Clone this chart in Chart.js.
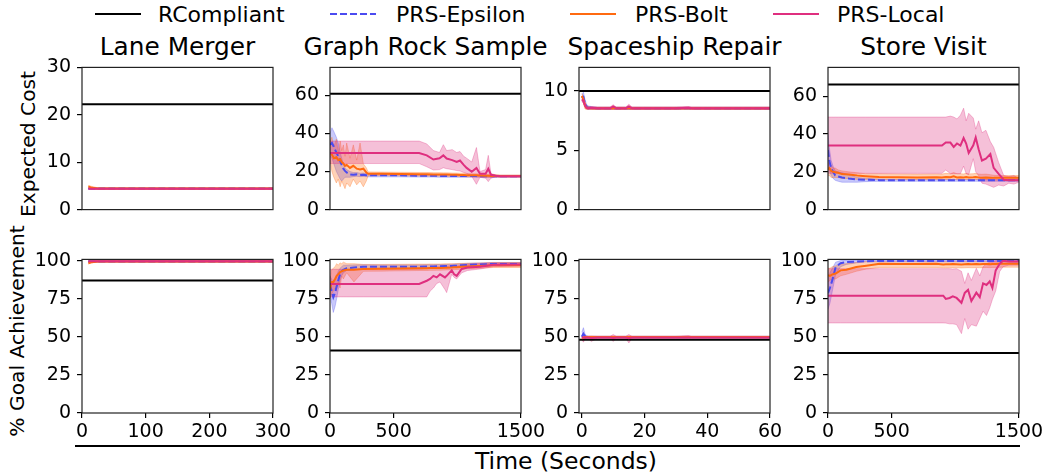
<!DOCTYPE html>
<html>
<head>
<meta charset="utf-8">
<script src="https://cdn.jsdelivr.net/npm/chart.js@4.4.1/dist/chart.umd.min.js"></script>
<style>
body { margin: 0; background: #fff; width: 1047px; height: 472px; position: relative; overflow: hidden; font-family: "DejaVu Sans", sans-serif; color: #000; }
canvas { position: absolute; }
.txt { position: absolute; white-space: nowrap; }
.title { font-size: 24.8px; line-height: 28px; text-align: center; width: 320px; top: 33px; }
.leg { font-size: 22px; line-height: 26px; top: 2px; }
.ylab { font-size: 20.3px; line-height: 26px; width: 320px; height: 26px; text-align: center; transform: rotate(-90deg); }
svg { position: absolute; }
</style>
</head>
<body>

<svg style="left:95px;top:8px" width="46" height="12"><line x1="0" y1="6" x2="46" y2="6" stroke="#000" stroke-width="2.2"/></svg>
<div class="txt leg" style="left:158px">RCompliant</div>
<svg style="left:330px;top:8px" width="46" height="12"><line x1="0" y1="6" x2="46" y2="6" stroke="#4b4bf0" stroke-width="2.2" stroke-dasharray="7,3"/></svg>
<div class="txt leg" style="left:396px">PRS-Epsilon</div>
<svg style="left:570px;top:8px" width="46" height="12"><line x1="0" y1="6" x2="46" y2="6" stroke="#ff6a10" stroke-width="2.2"/></svg>
<div class="txt leg" style="left:635px">PRS-Bolt</div>
<svg style="left:773px;top:8px" width="46" height="12"><line x1="0" y1="6" x2="46" y2="6" stroke="#df2f7f" stroke-width="2.2"/></svg>
<div class="txt leg" style="left:837px">PRS-Local</div>

<div class="txt ylab" style="left:-132px;top:131px">Expected Cost</div>
<div class="txt ylab" style="left:-143px;top:318px">% Goal Achievement</div>

<div style="position:absolute;left:75px;top:445px;width:945px;height:2px;background:#000"></div>
<div class="txt" style="left:406px;top:446px;width:320px;text-align:center;font-size:23.5px;line-height:30px">Time (Seconds)</div>

<script>
// ---------- data ----------
const panelTitles = ['Lane Merger', 'Graph Rock Sample', 'Spaceship Repair', 'Store Visit'];

// RCompliant baselines (cost row, goal row)
const rcCost = [22.2, 60.8, 10.0, 66.3];
const rcGoal = [87, 41, 48, 39.3];

// Lane Merger
const laneTime = [10, 15, 25, 50, 100, 150, 200, 250, 300];
const laneCostEps = [4.45, 4.45, 4.45, 4.45, 4.45, 4.45, 4.45, 4.45, 4.45];
const laneCostEpsLo = [4.3, 4.3, 4.3, 4.3, 4.3, 4.3, 4.3, 4.3, 4.3];
const laneCostEpsHi = [4.6, 4.6, 4.6, 4.6, 4.6, 4.6, 4.6, 4.6, 4.6];
const laneCostBolt = [4.9, 4.6, 4.45, 4.45, 4.45, 4.45, 4.45, 4.45, 4.45];
const laneCostBoltLo = [4.5, 4.35, 4.3, 4.3, 4.3, 4.3, 4.3, 4.3, 4.3];
const laneCostBoltHi = [5.1, 4.9, 4.6, 4.6, 4.6, 4.6, 4.6, 4.6, 4.6];
const laneCostLocal = [4.4, 4.4, 4.4, 4.4, 4.4, 4.4, 4.4, 4.4, 4.4];
const laneCostLocalLo = [4.3, 4.3, 4.3, 4.3, 4.3, 4.3, 4.3, 4.3, 4.3];
const laneCostLocalHi = [4.5, 4.5, 4.5, 4.5, 4.5, 4.5, 4.5, 4.5, 4.5];
const laneGoalEps = [99.5, 99.5, 99.5, 99.5, 99.5, 99.5, 99.5, 99.5, 99.5];
const laneGoalEpsLo = [99, 99, 99, 99, 99, 99, 99, 99, 99];
const laneGoalEpsHi = [100, 100, 100, 100, 100, 100, 100, 100, 100];
const laneGoalBolt = [98.3, 99, 99.4, 99.5, 99.5, 99.5, 99.5, 99.5, 99.5];
const laneGoalBoltLo = [97.8, 98.5, 99, 99, 99, 99, 99, 99, 99];
const laneGoalBoltHi = [99.5, 99.8, 100, 100, 100, 100, 100, 100, 100];
const laneGoalLocal = [99.6, 99.6, 99.6, 99.6, 99.6, 99.6, 99.6, 99.6, 99.6];
const laneGoalLocalLo = [99.2, 99.2, 99.2, 99.2, 99.2, 99.2, 99.2, 99.2, 99.2];
const laneGoalLocalHi = [100, 100, 100, 100, 100, 100, 100, 100, 100];

// Graph Rock Sample - expected cost
const grsCostTime = [0, 15, 30, 50, 65, 80, 92, 105, 118, 131, 157, 183, 210, 236, 262, 285, 300, 400, 550, 700, 760, 812, 860, 890, 916, 960, 995, 1021, 1050, 1073, 1113, 1150, 1178, 1222, 1243, 1264, 1300, 1335, 1500];
const grsCostEps = [34, 35, 33, 30, 28, 25.5, 23.5, 21.5, 20.3, 19.5, 18.5, 18.3, 18.5, 18.2, 18.3, 18.1, 18, 18, 18, 17.8, 17.8, 17.8, 17.7, 17.7, 17.7, 17.7, 17.6, 17.6, 17.6, 17.6, 17.6, 17.6, 17.5, 17.5, 17.5, 17.5, 17.5, 17.5, 17.5];
const grsCostEpsLo = [28, 27, 24, 20, 18, 16, 15, 16, 17, 17, 17, 17.3, 17.5, 17.3, 17.4, 17.3, 17.2, 17.2, 17.2, 17.1, 17.1, 17.1, 17, 17, 17, 17, 17, 17, 17, 17, 17, 17, 17, 17, 17, 17, 17, 17, 17];
const grsCostEpsHi = [40, 43, 41, 38, 35, 30, 27, 24, 22, 21, 20, 19.5, 19.5, 19.1, 19.2, 18.9, 18.8, 18.8, 18.8, 18.5, 18.5, 18.5, 18.4, 18.4, 18.4, 18.4, 18.2, 18.2, 18.2, 18.2, 18.2, 18.2, 18, 18, 18, 18, 18, 18, 18];
const grsCostBolt = [30, 28.9, 27, 27.5, 26, 26.5, 25, 24.2, 23, 23.5, 21.9, 23, 21.5, 21.1, 21.5, 19.5, 18.8, 18.8, 18.7, 18.6, 18.6, 18.5, 18.5, 18.4, 18.4, 18.3, 18.3, 18.2, 18.2, 18.1, 18, 18, 17.9, 17.8, 17.8, 17.7, 17.7, 17.6, 17.6];
const grsCostBoltLo = [26, 20, 17, 14, 16, 12, 15, 13, 11, 14, 12, 16, 13, 15, 12, 15, 17.8, 17.9, 17.8, 17.7, 17.7, 17.6, 17.6, 17.5, 17.5, 17.4, 17.4, 17.3, 17.3, 17.2, 17.2, 17.2, 17.1, 17, 17, 17, 17, 17, 17];
const grsCostBoltHi = [36, 38, 33, 37, 30, 36, 31, 34, 28, 35, 27, 34, 26, 35, 24, 22, 19.8, 19.7, 19.6, 19.5, 19.5, 19.4, 19.4, 19.3, 19.3, 19.2, 19.2, 19.1, 19.1, 19, 18.8, 18.8, 18.7, 18.6, 18.6, 18.4, 18.4, 18.2, 18.2];
const grsCostLocal = [29.7, 29.7, 29.7, 29.7, 29.7, 29.7, 29.7, 29.7, 29.7, 29.7, 29.7, 29.7, 29.7, 29.7, 29.7, 29.7, 29.7, 29.7, 29.7, 29.7, 28.5, 26.3, 27, 28.5, 26.8, 26, 25, 25.8, 23.5, 21.9, 19.9, 21.9, 18.8, 18.8, 21.4, 18.3, 17.8, 17.5, 17.5];
const grsCostLocalLo = [24.2, 24.2, 24.2, 24.2, 24.2, 24.2, 24.2, 24.2, 24.2, 24.2, 24.2, 24.2, 24.2, 24.2, 24.2, 24.2, 24.2, 24.2, 24.2, 24.2, 22.5, 20.8, 21, 22, 21.5, 21, 20.5, 20.3, 19.5, 19, 17.5, 13.3, 17, 16.5, 14.7, 16.5, 17.2, 17.2, 17.2];
const grsCostLocalHi = [36, 36, 36, 36, 36, 36, 36, 36, 36, 36, 36, 36, 36, 36, 36, 36, 36, 36, 36, 36, 34.5, 31, 30, 34.1, 31, 31.5, 30, 30.5, 28, 27, 25, 32.6, 20, 21, 28.5, 19, 18.2, 17.8, 17.8];

// Graph Rock Sample - goal achievement
const grsGoalTime = [0, 13, 26, 40, 52, 65, 79, 92, 105, 131, 188, 262, 393, 550, 700, 760, 786, 812, 838, 864, 903, 916, 956, 975, 995, 1034, 1080, 1178, 1283, 1500];
const grsGoalEps = [84.5, 80, 76, 79, 83, 87, 91, 93, 94, 95, 95.5, 96, 96, 96, 96, 96.2, 96.2, 96.2, 96.3, 96.3, 96.4, 96.4, 96.5, 96.6, 96.7, 97, 97.2, 97.5, 97.8, 97.8];
const grsGoalEpsLo = [78, 72, 66, 70, 75, 81, 87, 90, 92, 93.5, 94, 94.8, 95, 95, 95, 95.2, 95.2, 95.2, 95.3, 95.3, 95.4, 95.4, 95.5, 95.6, 95.7, 96, 96.2, 96.5, 96.8, 96.8];
const grsGoalEpsHi = [90, 88, 84, 87, 90, 93, 95, 96, 97, 97, 97.2, 97.3, 97.2, 97.2, 97.2, 97.3, 97.3, 97.3, 97.4, 97.4, 97.5, 97.5, 97.6, 97.7, 97.8, 98, 98.2, 98.5, 98.8, 98.8];
const grsGoalBolt = [81, 86, 86, 88, 90, 91, 92.5, 93, 93.5, 94, 94, 94.5, 94.6, 94.8, 95, 95, 95.1, 95.1, 95.2, 95.2, 95.3, 95.4, 95.5, 95.6, 95.7, 95.9, 96.1, 96.5, 97, 97];
const grsGoalBoltLo = [75, 78, 80, 82, 80, 86, 82, 90, 88, 92, 86, 93, 93.1, 93.3, 93.5, 93.5, 93.6, 93.6, 93.7, 93.7, 93.8, 93.9, 94, 94.1, 94.2, 94.4, 94.6, 95, 95.5, 95.5];
const grsGoalBoltHi = [87, 94, 95, 96, 98, 97, 98.5, 98, 99, 98, 98, 97.5, 97.5, 97.6, 97.7, 97.7, 97.8, 97.8, 97.8, 97.8, 97.9, 97.9, 98, 98, 98.1, 98.2, 98.3, 98.5, 98.7, 98.7];
const grsGoalLocal = [84.7, 84.7, 84.7, 84.7, 84.7, 84.7, 84.7, 84.7, 84.7, 84.7, 84.7, 84.7, 84.7, 84.7, 84.7, 86.8, 88, 90, 89, 91, 89, 90, 93.6, 91, 90, 94.5, 95.5, 96, 97.3, 97.5];
const grsGoalLocalLo = [76.2, 76.2, 76.2, 76.2, 76.2, 76.2, 76.2, 76.2, 76.2, 76.2, 76.2, 76.2, 76.2, 76.2, 76.2, 76.2, 80, 82, 85, 86, 81, 79, 91, 89, 88, 92, 93.5, 94.5, 96, 96.5];
const grsGoalLocalHi = [94.3, 94.3, 94.3, 94.3, 94.3, 94.3, 94.3, 94.3, 94.3, 94.3, 94.3, 94.3, 94.3, 94.3, 94.3, 95, 95.5, 96, 96, 96, 96, 96.2, 97, 96.5, 96.5, 97, 97.5, 98, 98.5, 98.5];

// Spaceship Repair
const shipTime = [0, 0.5, 1, 1.5, 2, 3, 5, 9, 10, 11, 14, 15, 16, 20, 30, 34, 35, 40, 50, 60];
const shipCostEps = [9.4, 9.5, 9.0, 8.7, 8.6, 8.6, 8.55, 8.55, 8.55, 8.55, 8.55, 8.55, 8.55, 8.55, 8.55, 8.55, 8.55, 8.55, 8.55, 8.55];
const shipCostEpsLo = [9.1, 9.1, 8.7, 8.5, 8.45, 8.45, 8.45, 8.45, 8.45, 8.45, 8.45, 8.45, 8.45, 8.45, 8.45, 8.45, 8.45, 8.45, 8.45, 8.45];
const shipCostEpsHi = [9.7, 9.9, 9.3, 8.9, 8.75, 8.7, 8.65, 8.65, 8.65, 8.65, 8.65, 8.65, 8.65, 8.65, 8.65, 8.65, 8.65, 8.65, 8.65, 8.65];
const shipCostBolt = [9.6, 9.3, 8.8, 8.6, 8.6, 8.55, 8.55, 8.55, 8.55, 8.55, 8.55, 8.55, 8.55, 8.55, 8.55, 8.55, 8.55, 8.55, 8.55, 8.55];
const shipCostBoltLo = [9.3, 9.0, 8.5, 8.45, 8.45, 8.45, 8.45, 8.45, 8.45, 8.45, 8.45, 8.45, 8.45, 8.45, 8.45, 8.45, 8.45, 8.45, 8.45, 8.45];
const shipCostBoltHi = [9.8, 9.6, 9.1, 8.8, 8.7, 8.65, 8.65, 8.65, 8.65, 8.65, 8.65, 8.65, 8.65, 8.65, 8.65, 8.65, 8.65, 8.65, 8.65, 8.65];
const shipCostLocal = [9.3, 9.2, 8.8, 8.6, 8.55, 8.6, 8.55, 8.55, 8.7, 8.55, 8.55, 8.7, 8.55, 8.55, 8.55, 8.6, 8.55, 8.55, 8.55, 8.55];
const shipCostLocalLo = [9.1, 9.0, 8.6, 8.5, 8.45, 8.5, 8.45, 8.45, 8.5, 8.45, 8.45, 8.5, 8.45, 8.45, 8.45, 8.5, 8.45, 8.45, 8.45, 8.45];
const shipCostLocalHi = [9.5, 9.4, 9.0, 8.7, 8.65, 8.7, 8.65, 8.65, 8.85, 8.65, 8.65, 8.9, 8.65, 8.65, 8.65, 8.7, 8.65, 8.65, 8.65, 8.65];
const shipGoalEps = [50, 52, 50.5, 49.8, 49.8, 49.8, 49.8, 49.8, 49.8, 49.8, 49.8, 49.8, 49.8, 49.8, 49.8, 49.8, 49.8, 49.8, 49.8, 49.8];
const shipGoalEpsLo = [48, 48, 48.5, 49, 49.2, 49.2, 49.2, 49.2, 49.2, 49.2, 49.2, 49.2, 49.2, 49.2, 49.2, 49.2, 49.2, 49.2, 49.2, 49.2];
const shipGoalEpsHi = [53, 56, 52, 50.8, 50.5, 50.4, 50.4, 50.4, 50.4, 50.4, 50.4, 50.4, 50.4, 50.4, 50.4, 50.4, 50.4, 50.4, 50.4, 50.4];
const shipGoalBolt = [49, 49.5, 49.8, 49.8, 49.8, 49.8, 49.8, 49.8, 49.8, 49.8, 49.8, 49.8, 49.8, 49.8, 49.8, 49.8, 49.8, 49.8, 49.8, 49.8];
const shipGoalBoltLo = [47.5, 48, 49, 49.2, 49.2, 49.2, 49.2, 49.2, 49.2, 49.2, 49.2, 49.2, 49.2, 49.2, 49.2, 49.2, 49.2, 49.2, 49.2, 49.2];
const shipGoalBoltHi = [50.5, 51, 50.6, 50.4, 50.4, 50.4, 50.4, 50.4, 50.4, 50.4, 50.4, 50.4, 50.4, 50.4, 50.4, 50.4, 50.4, 50.4, 50.4, 50.4];
const shipGoalLocal = [49.5, 49.5, 49.5, 49.5, 49.5, 49.3, 49.5, 49.5, 49.2, 49.5, 49.5, 49, 49.5, 49.5, 49.5, 49.5, 49.5, 49.5, 49.5, 49.5];
const shipGoalLocalLo = [48.5, 46.5, 48.5, 49, 49, 47, 49, 49, 47, 49, 49, 46, 49, 49, 49, 49, 49, 49, 49, 49];
const shipGoalLocalHi = [50.5, 52, 50.5, 50.3, 50.3, 50.5, 50.3, 50.3, 51.5, 50.3, 50.3, 51.5, 50.3, 50.3, 50.3, 50.8, 50.3, 50.3, 50.3, 50.3];

// Store Visit - expected cost
const storeCostTime = [0, 10, 25, 40, 57, 80, 110, 162, 230, 293, 400, 550, 700, 850, 895, 925, 961, 987, 1013, 1040, 1065, 1085, 1105, 1141, 1160, 1183, 1209, 1240, 1275, 1301, 1340, 1380, 1420, 1460, 1500];
const storeCostEps = [31.6, 26, 22, 20, 18.1, 17.5, 17, 16.5, 16, 15.8, 15.6, 15.5, 15.5, 15.5, 15.5, 15.5, 15.5, 15.5, 15.5, 15.5, 15.5, 15.5, 15.5, 15.5, 15.5, 15.5, 15.5, 15.5, 15.5, 15.5, 15.5, 15.5, 15.5, 15.5, 15.5];
const storeCostEpsLo = [25, 21, 18, 16.5, 15.5, 15, 14.5, 14.5, 14.5, 14.8, 15, 15, 15, 15, 15, 15, 15, 15, 15, 15, 15, 15, 15, 15, 15, 15, 15, 15, 15, 15, 15, 15, 15, 15, 15];
const storeCostEpsHi = [40, 33, 26, 23, 20.5, 20, 19.5, 18.5, 17, 16.6, 16.2, 16, 16, 16, 16, 16, 16, 16, 16, 16, 16, 16, 16, 16, 16, 16, 16, 16, 16, 16, 16, 16, 16, 16, 16];
const storeCostBolt = [21.3, 22, 20.5, 20, 19.8, 19.5, 18.8, 18.6, 18, 17.7, 17.3, 17.1, 17, 17.1, 17, 17.2, 17.1, 17.6, 17, 17.1, 17, 17.2, 17, 17.1, 17.2, 17, 16.9, 17, 16.9, 16.8, 16.8, 16.8, 16.8, 16.8, 16.8];
const storeCostBoltLo = [18, 18, 17, 17, 17, 17, 16.5, 16.5, 16, 16, 16, 15.9, 15.8, 15.9, 15.8, 16, 15.9, 16.2, 15.8, 15.9, 15.8, 16, 15.8, 15.9, 16, 15.8, 15.7, 15.8, 15.7, 15.6, 15.6, 15.6, 15.6, 15.6, 15.6];
const storeCostBoltHi = [25, 24, 23.5, 22, 22, 21, 20.5, 20, 19.5, 19, 19, 18.9, 18.8, 18.9, 18.8, 19.2, 19, 19.6, 19, 19, 18.9, 19.2, 18.9, 19, 19.2, 18.8, 18.7, 18.8, 18.5, 18.2, 18, 18, 18, 18, 18];
const storeCostLocal = [33.9, 33.9, 33.9, 33.9, 33.9, 33.9, 33.9, 33.9, 33.9, 33.9, 33.9, 33.9, 33.9, 33.9, 33.9, 35.5, 35.5, 33.2, 35, 33.9, 37.9, 35, 30, 34, 38.2, 32, 26, 27, 29.4, 22.1, 18.9, 15.8, 15.5, 15.5, 15.5];
const storeCostLocalLo = [19.2, 19.2, 19.2, 19.2, 19.2, 19.2, 19.2, 19.2, 19.2, 19.2, 19.2, 19.2, 19.2, 19.2, 19.2, 21, 19, 19, 19, 19, 23, 19, 18.5, 27, 20, 18, 14, 13.5, 12.5, 11.8, 13, 12.5, 14, 13.5, 14.5];
const storeCostLocalHi = [49, 49, 49, 49, 49, 49, 49, 49, 49, 49, 49, 49, 49, 49, 49, 49, 49.5, 49, 48, 50, 53.7, 47, 51, 48.5, 42.6, 47, 40.7, 42, 36, 33, 25, 18, 17.5, 18, 16.5];

// Store Visit - goal achievement
const storeGoalTime = [0, 15, 34, 60, 99, 144, 222, 301, 406, 550, 700, 850, 905, 925, 955, 980, 1010, 1048, 1074, 1100, 1126, 1165, 1192, 1218, 1245, 1270, 1291, 1317, 1348, 1375, 1420, 1460, 1500];
const storeGoalEps = [78.7, 82, 87.2, 95.7, 98.3, 99, 99.4, 99.6, 99.8, 99.8, 99.8, 99.8, 99.8, 99.8, 99.8, 99.8, 99.8, 99.8, 99.8, 99.8, 99.8, 99.8, 99.8, 99.8, 99.8, 99.8, 99.8, 99.8, 99.8, 99.8, 99.8, 99.8, 99.8];
const storeGoalEpsLo = [68, 72, 80, 91, 96, 97.5, 98.5, 99.2, 99.2, 99.2, 99.2, 99.2, 99.2, 99.2, 99.2, 99.2, 99.2, 99.2, 99.2, 99.2, 99.2, 99.2, 99.2, 99.2, 99.2, 99.2, 99.2, 99.2, 99.2, 99.2, 99.2, 99.2, 99.2];
const storeGoalEpsHi = [88, 92, 95, 99, 100, 100.2, 100.2, 100.2, 100.2, 100.2, 100.2, 100.2, 100.2, 100.2, 100.2, 100.2, 100.2, 100.2, 100.2, 100.2, 100.2, 100.2, 100.2, 100.2, 100.2, 100.2, 100.2, 100.2, 100.2, 100.2, 100.2, 100.2, 100.2];
const storeGoalBolt = [90.4, 90, 91, 91.5, 93.6, 94, 95.8, 96.7, 98, 97.8, 97.8, 98, 97.5, 97.6, 97.6, 97.7, 97.6, 97.5, 97.6, 97.7, 97.6, 97.7, 97.6, 97.7, 97.8, 97.7, 97.8, 97.8, 97.9, 98, 98, 98, 98];
const storeGoalBoltLo = [86, 87, 88, 88, 90, 91, 93, 94.5, 95.5, 95.5, 95.5, 95.5, 95.3, 95.3, 95.3, 95.4, 95.3, 95.2, 95.3, 95.4, 95.3, 95.4, 95.3, 95.4, 95.5, 95.4, 95.5, 95.5, 95.6, 95.7, 95.7, 95.7, 95.7];
const storeGoalBoltHi = [95, 95, 96, 96.5, 97.5, 98, 98.8, 99.5, 99.5, 99.5, 99.5, 99.5, 99.5, 99.5, 99.5, 99.5, 99.5, 99.5, 99.5, 99.5, 99.5, 99.5, 99.5, 99.5, 99.5, 99.5, 99.5, 99.5, 99.5, 99.5, 99.5, 99.5, 99.5];
const storeGoalLocal = [77, 77, 77, 77, 77, 77, 77, 77, 77, 77, 77, 77, 77, 74.9, 75.5, 76.6, 75.5, 72.3, 78.8, 80.8, 73.5, 79, 76, 85.1, 84, 86.4, 82.1, 93.6, 97.9, 99.9, 99.5, 99.5, 99.5];
const storeGoalLocalLo = [59.1, 59.1, 59.1, 59.1, 59.1, 59.1, 59.1, 59.1, 59.1, 59.1, 59.1, 59.1, 59.1, 59, 58.5, 58.5, 58, 52.1, 62, 55, 58, 57, 62, 66.8, 64, 69, 74.5, 80, 92.8, 96, 97, 97, 97];
const storeGoalLocalHi = [94.7, 94.7, 94.7, 94.7, 94.7, 94.7, 94.7, 94.7, 94.7, 94.7, 94.7, 94.7, 94.7, 94.7, 94.7, 94.5, 94.7, 93, 85, 92, 87, 95, 90, 96, 98, 99, 99, 100, 100.5, 100.5, 100.3, 100.3, 100.3];

// axis ranges and tick labels
const xRanges = [[0, 300], [0, 1500], [-0.9, 60], [0, 1500]];
const xTickVals = [[0, 100, 200, 300], [0, 500, 1500], [0, 20, 40, 60], [0, 500, 1500]];
const costMax = [30, 74.7, 12, 75.3];
const costTickVals = [[0, 10, 20, 30], [0, 20, 40, 60], [0, 5, 10], [0, 20, 40, 60]];
const goalMax = 100.8;
const goalTickVals = [0, 25, 50, 75, 100];

// ---------- drawing ----------
const colEps = '#4b4bf0', colBolt = '#ff6a10', colLocal = '#df2f7f';
const fillEps = 'rgba(75,75,240,0.3)', fillBolt = 'rgba(255,106,16,0.3)', fillLocal = 'rgba(223,47,127,0.3)';

const xLeft = [82, 330, 579, 828];
const plotW = 191;
const rowTop = [64, 256];
const rowH = [159, 157];

const frame = {
    id: 'frame',
    afterDatasetsDraw(chart) {
        const a = chart.chartArea, c = chart.ctx;
        c.save();
        c.strokeStyle = '#222';
        c.lineWidth = 1.2;
        c.strokeRect(a.left, a.top, a.right - a.left, a.bottom - a.top);
        c.restore();
    }
};

function pts(T, V) {
    return T.map((t, i) => ({ x: t, y: V[i] }));
}

function bandSets(T, lo, hi, fill, order) {
    return [
        { data: pts(T, hi), borderColor: fill, borderWidth: 1, pointRadius: 0, fill: '+1', backgroundColor: fill, order: order },
        { data: pts(T, lo), borderColor: fill, borderWidth: 1, pointRadius: 0, fill: false, order: order }
    ];
}

function makePanel(col, row, T, rc, eps, bolt, local) {
    const padL = 56, padT = 14, padR = 32;
    const axisH = row === 1 ? 30 : 0;
    const padB = row === 1 ? 0 : 4;
    const cv = document.createElement('canvas');
    cv.width = padL + plotW + padR;
    cv.height = padT + rowH[row] + axisH + padB;
    cv.style.left = (xLeft[col] - padL) + 'px';
    cv.style.top = (rowTop[row] - padT) + 'px';
    document.body.appendChild(cv);

    const xr = xRanges[col];
    const yMax = row === 0 ? costMax[col] : goalMax;
    const yTicks = row === 0 ? costTickVals[col] : goalTickVals;

    const datasets = [].concat(
        bandSets(T, eps[1], eps[2], fillEps, 12),
        bandSets(T, bolt[1], bolt[2], fillBolt, 11),
        bandSets(T, local[1], local[2], fillLocal, 10),
        [
            { data: [{ x: xr[0], y: rc }, { x: xr[1], y: rc }], borderColor: '#000', borderWidth: 2, pointRadius: 0, fill: false, order: 3 },
            { data: pts(T, eps[0]), borderColor: colEps, borderWidth: 2, borderDash: [7, 3], pointRadius: 0, fill: false, order: 2 },
            { data: pts(T, bolt[0]), borderColor: colBolt, borderWidth: 2, pointRadius: 0, fill: false, order: 1 },
            { data: pts(T, local[0]), borderColor: colLocal, borderWidth: 2, pointRadius: 0, fill: false, order: 0 }
        ]
    );

    const tickFont = { family: 'DejaVu Sans', size: 19 };

    new Chart(cv, {
        type: 'line',
        data: { datasets: datasets },
        options: {
            responsive: false,
            animation: false,
            layout: { padding: { left: 0, top: padT, right: padR, bottom: padB } },
            plugins: { legend: { display: false }, tooltip: { enabled: false } },
            scales: {
                x: {
                    type: 'linear',
                    min: xr[0],
                    max: xr[1],
                    display: row === 1,
                    afterBuildTicks: s => { s.ticks = xTickVals[col].map(v => ({ value: v })); },
                    afterFit: s => { s.height = axisH; },
                    grid: { display: true, drawOnChartArea: false, drawTicks: true, tickLength: 5, color: '#000', lineWidth: 1.2 },
                    border: { display: false },
                    ticks: { font: tickFont, color: '#000', padding: 3, maxRotation: 0, autoSkip: false, callback: v => String(v) }
                },
                y: {
                    type: 'linear',
                    min: 0,
                    max: yMax,
                    afterBuildTicks: s => { s.ticks = yTicks.map(v => ({ value: v })); },
                    afterFit: s => { s.width = padL; },
                    grid: { display: true, drawOnChartArea: false, drawTicks: true, tickLength: 5, color: '#000', lineWidth: 1.2 },
                    border: { display: false },
                    ticks: { font: tickFont, color: '#000', padding: 6, autoSkip: false, callback: v => String(v) }
                }
            }
        },
        plugins: [frame]
    });
}

// titles
panelTitles.forEach((t, i) => {
    const d = document.createElement('div');
    d.className = 'txt title';
    d.style.left = (xLeft[i] + plotW / 2 - 160) + 'px';
    d.textContent = t;
    document.body.appendChild(d);
});

makePanel(0, 0, laneTime, rcCost[0], [laneCostEps, laneCostEpsLo, laneCostEpsHi], [laneCostBolt, laneCostBoltLo, laneCostBoltHi], [laneCostLocal, laneCostLocalLo, laneCostLocalHi]);
makePanel(1, 0, grsCostTime, rcCost[1], [grsCostEps, grsCostEpsLo, grsCostEpsHi], [grsCostBolt, grsCostBoltLo, grsCostBoltHi], [grsCostLocal, grsCostLocalLo, grsCostLocalHi]);
makePanel(2, 0, shipTime, rcCost[2], [shipCostEps, shipCostEpsLo, shipCostEpsHi], [shipCostBolt, shipCostBoltLo, shipCostBoltHi], [shipCostLocal, shipCostLocalLo, shipCostLocalHi]);
makePanel(3, 0, storeCostTime, rcCost[3], [storeCostEps, storeCostEpsLo, storeCostEpsHi], [storeCostBolt, storeCostBoltLo, storeCostBoltHi], [storeCostLocal, storeCostLocalLo, storeCostLocalHi]);

makePanel(0, 1, laneTime, rcGoal[0], [laneGoalEps, laneGoalEpsLo, laneGoalEpsHi], [laneGoalBolt, laneGoalBoltLo, laneGoalBoltHi], [laneGoalLocal, laneGoalLocalLo, laneGoalLocalHi]);
makePanel(1, 1, grsGoalTime, rcGoal[1], [grsGoalEps, grsGoalEpsLo, grsGoalEpsHi], [grsGoalBolt, grsGoalBoltLo, grsGoalBoltHi], [grsGoalLocal, grsGoalLocalLo, grsGoalLocalHi]);
makePanel(2, 1, shipTime, rcGoal[2], [shipGoalEps, shipGoalEpsLo, shipGoalEpsHi], [shipGoalBolt, shipGoalBoltLo, shipGoalBoltHi], [shipGoalLocal, shipGoalLocalLo, shipGoalLocalHi]);
makePanel(3, 1, storeGoalTime, rcGoal[3], [storeGoalEps, storeGoalEpsLo, storeGoalEpsHi], [storeGoalBolt, storeGoalBoltLo, storeGoalBoltHi], [storeGoalLocal, storeGoalLocalLo, storeGoalLocalHi]);
</script>
</body>
</html>
